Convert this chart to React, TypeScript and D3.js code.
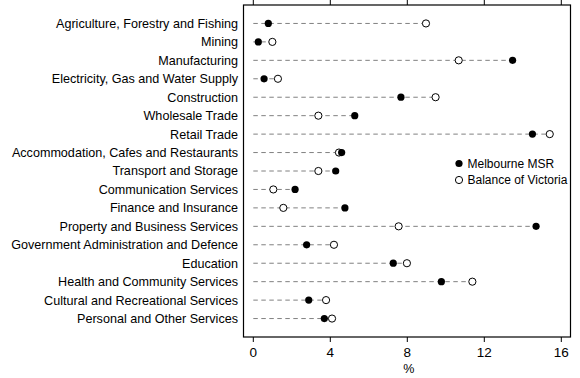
import React from "react";
import * as d3 from "d3";

const categories = [
  "Agriculture, Forestry and Fishing",
  "Mining",
  "Manufacturing",
  "Electricity, Gas and Water Supply",
  "Construction",
  "Wholesale Trade",
  "Retail Trade",
  "Accommodation, Cafes and Restaurants",
  "Transport and Storage",
  "Communication Services",
  "Finance and Insurance",
  "Property and Business Services",
  "Government Administration and Defence",
  "Education",
  "Health and Community Services",
  "Cultural and Recreational Services",
  "Personal and Other Services",
];

const melbourne = [0.78, 0.26, 13.47, 0.56, 7.67, 5.27, 14.5, 4.59, 4.28, 2.17, 4.76, 14.69, 2.77, 7.27, 9.77, 2.88, 3.69];
const balance = [8.97, 0.99, 10.67, 1.28, 9.47, 3.38, 15.4, 4.45, 3.38, 1.04, 1.56, 7.55, 4.19, 7.98, 11.38, 3.78, 4.09];

const xTicks = [0, 4, 8, 12, 16];
const seriesNames = ["Melbourne MSR", "Balance of Victoria"];

const W = 580;
const H = 378;
const box = { left: 243.5, right: 570.5, top: 5, bottom: 337 };
const font = "'Liberation Sans', Arial, sans-serif";

export default function App() {
  const x = d3.scaleLinear().domain([0, 16]).range([253.3, 561.3]);
  const y = d3.scalePoint<string>().domain(categories).range([box.top, box.bottom]).padding(1);
  const r = 3.6;

  return (
    <svg width={W} height={H} style={{ position: "absolute", left: 0, top: 0 }} fontFamily={font}>
      <rect x={0} y={0} width={W} height={H} fill="#fff" />
      <rect x={box.left} y={box.top} width={box.right - box.left} height={box.bottom - box.top} fill="none" stroke="#000" strokeWidth={1.2} />
      {xTicks.map((t) => (
        <g key={t}>
          <line x1={x(t)} x2={x(t)} y1={0} y2={box.top} stroke="#000" strokeWidth={1} />
          <line x1={x(t)} x2={x(t)} y1={box.bottom} y2={box.bottom + 5} stroke="#000" strokeWidth={1} />
          <text x={x(t)} y={357} textAnchor="middle" fontSize={13.5} fill="#000">{t}</text>
        </g>
      ))}
      <text x={x(8) + 1.5} y={372.5} textAnchor="middle" fontSize={12.5} fill="#000">%</text>
      {categories.map((c, i) => {
        const yy = y(c)!;
        const mx = Math.max(melbourne[i], balance[i]);
        return (
          <g key={c}>
            <text x={238} y={yy + 4.4} textAnchor="end" fontSize={12.6} fill="#000">{c}</text>
            <line x1={x(0)} x2={x(mx)} y1={yy} y2={yy} stroke="#808080" strokeWidth={1} strokeDasharray="4.5,3.5" />
            <circle cx={x(balance[i])} cy={yy} r={r} fill="#fff" stroke="#000" strokeWidth={1} />
            <circle cx={x(melbourne[i])} cy={yy} r={r} fill="#000" />
          </g>
        );
      })}
      <circle cx={459} cy={163.5} r={r} fill="#000" />
      <text x={467.5} y={167.8} fontSize={12} fill="#000">{seriesNames[0]}</text>
      <circle cx={459} cy={180} r={r} fill="#fff" stroke="#000" strokeWidth={1} />
      <text x={467.5} y={184.3} fontSize={12} fill="#000">{seriesNames[1]}</text>
    </svg>
  );
}
